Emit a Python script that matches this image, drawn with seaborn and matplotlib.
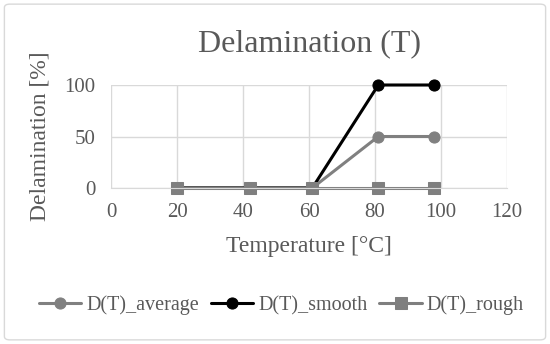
import matplotlib
matplotlib.use("Agg")
import matplotlib.pyplot as plt
import seaborn as sns
import pandas as pd
from matplotlib.patches import FancyBboxPatch

# Data
temperature = [20, 42, 61, 81, 98]
d_average = [0, 0, 0, 50, 50]
d_smooth = [0, 0, 0, 100, 100]
d_rough = [0, 0, 0, 0, 0]
series_names = ["D(T)_average", "D(T)_smooth", "D(T)_rough"]
x_ticks = [0, 20, 40, 60, 80, 100, 120]
y_ticks = [0, 50, 100]

sns.set_style("white")
plt.rcParams["font.family"] = ["Liberation Serif", "DejaVu Serif"]
text_color = "#595959"

fig = plt.figure(figsize=(5.5, 3.44), dpi=100)
ax = fig.add_axes([111 / 550, 1 - 188 / 344, (507 - 111) / 550, (188 - 85) / 344])

# light frame around the whole chart
fig.patches.append(FancyBboxPatch((0.008, 0.012), 0.984, 0.976, boxstyle="round,pad=0,rounding_size=0.01",
                                  transform=fig.transFigure, fill=False, edgecolor="#d9d9d9", linewidth=1))

styles = [
    (d_average, "#808080", "o"),
    (d_smooth, "#000000", "o"),
    (d_rough, "#7f7f7f", "s"),
]
for name, (vals, color, marker) in zip(series_names, styles):
    df = pd.DataFrame({"T": temperature, "D": vals})
    sns.lineplot(data=df, x="T", y="D", ax=ax, color=color, marker=marker, markersize=8,
                 markeredgecolor=color, linewidth=2.2, label=name, clip_on=False)

ax.set_xlim(0, 120)
ax.set_ylim(0, 100)
ax.set_xticks(x_ticks)
ax.set_yticks(y_ticks)
ax.grid(True, color="#d9d9d9", linewidth=1)
ax.set_axisbelow(True)
for side in ["top", "right", "left"]:
    ax.spines[side].set_visible(False)
ax.spines["bottom"].set_color("#d9d9d9")
ax.tick_params(axis="both", length=0, labelsize=15, labelcolor=text_color, pad=11)

ax.set_xlabel("Temperature [°C]", fontsize=17, color=text_color, labelpad=10)
ax.set_ylabel("Delamination [%]", fontsize=17, color=text_color, labelpad=10)
ax.set_title("Delamination (T)", fontsize=23, color=text_color, pad=24)

ax.legend(loc="center", bbox_to_anchor=(0.43, -1.14), ncol=3, frameon=False,
          fontsize=14.5, labelcolor=text_color, handlelength=2.1, handletextpad=0.25, columnspacing=0.6)

fig.savefig("out.png", dpi=100)
